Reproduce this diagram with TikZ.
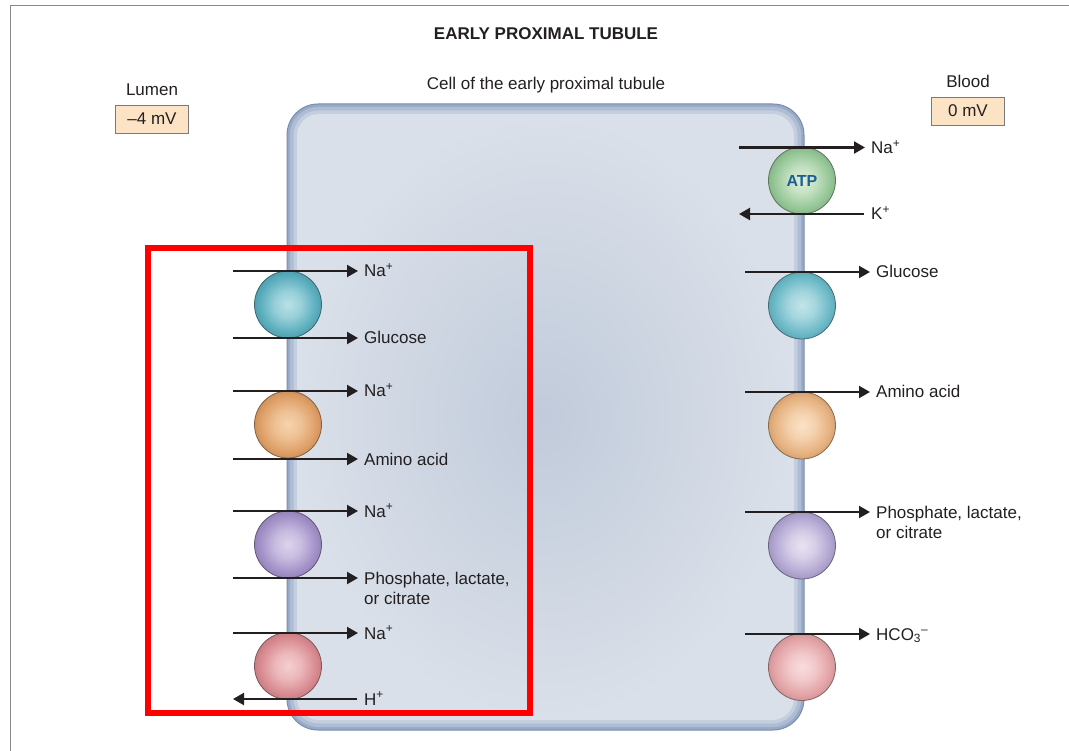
\documentclass[tikz,border=0pt]{standalone}
\usepackage{fontspec}
\setmainfont{Liberation Sans}
\usetikzlibrary{arrows.meta,fadings}

% palette
\definecolor{ink}{HTML}{231F20}
\definecolor{framegray}{HTML}{8A8A8A}
\definecolor{peach}{HTML}{FCE3C6}
\definecolor{boxedge}{HTML}{7A7A7A}
\definecolor{cellline}{HTML}{7A8EAE}
\definecolor{membA}{HTML}{97AAC7}
\definecolor{membB}{HTML}{AEBDD3}
\definecolor{membC}{HTML}{C3CEDE}
\definecolor{cytoEdge}{HTML}{DAE0E9}
\definecolor{cytoMid}{HTML}{C1CBDB}
\definecolor{atpblue}{HTML}{1E5F93}
\definecolor{markred}{HTML}{FF0000}
% transporter colours (centre / rim)
\definecolor{cyanIn}{HTML}{B9E1E7}   \definecolor{cyanOut}{HTML}{5AAEBE}
\definecolor{oraIn}{HTML}{F7D3AE}    \definecolor{oraOut}{HTML}{DE9F66}
\definecolor{purIn}{HTML}{DCD4EC}    \definecolor{purOut}{HTML}{A290C8}
\definecolor{pinkIn}{HTML}{F5CFD1}   \definecolor{pinkOut}{HTML}{D88A90}
\definecolor{grnIn}{HTML}{DDEFD8}    \definecolor{grnOut}{HTML}{95C696}
\definecolor{cyanInR}{HTML}{C3E5EA}  \definecolor{cyanOutR}{HTML}{6BB9C7}
\definecolor{oraInR}{HTML}{FBE2C6}   \definecolor{oraOutR}{HTML}{E6B17F}
\definecolor{purInR}{HTML}{E8E3F2}   \definecolor{purOutR}{HTML}{B2A6D2}
\definecolor{pinkInR}{HTML}{F9DCDD}  \definecolor{pinkOutR}{HTML}{E3A3A6}

% sphere colours used by the transporter shading
\colorlet{sphin}{white}
\colorlet{sphout}{gray}
\pgfdeclareradialshading[sphin,sphout]{spheroid}{\pgfpoint{0bp}{0bp}}{%
  color(0bp)=(sphin); color(10bp)=(sphin!65!sphout); color(21bp)=(sphout);
  color(25bp)=(sphout!92!black); color(50bp)=(sphout!92!black)}
\tikzfading[name=midband, top color=transparent!100, middle color=transparent!0,
  bottom color=transparent!100]

\tikzset{
  every node/.style={font=\fontsize{17}{20.4}\selectfont, text=ink},
  lbl/.style={anchor=base west, inner sep=0pt},
  mlbl/.style={anchor=north west, inner sep=0pt, align=left},
  flux/.style={draw=ink, line width=2.1pt,
    -{Triangle[length=11pt,width=12pt]}},
  pump/.style 2 args={circle, minimum size=67pt, inner sep=0pt,
    /utils/exec={\colorlet{sphin}{#1}\colorlet{sphout}{#2}},
    draw=#2!60!black, line width=0.8pt, shading=spheroid,
    path picture={\fill[#2!85!black, opacity=0.25, path fading=midband]
      (path picture bounding box.south west) rectangle
      (path picture bounding box.north east);}},
  mvbox/.style={draw=boxedge, fill=peach, line width=0.9pt,
    minimum width=73pt, minimum height=28pt, inner sep=0pt},
}

\begin{document}
\begin{tikzpicture}[x=1pt, y=-1pt]
\useasboundingbox (0,0) rectangle (1069,751);

% page frame
\draw[framegray, line width=1.5pt] (10.5,751) -- (10.5,5.5) -- (1069,5.5);

% headings
\node[font=\bfseries\fontsize{17}{20.4}\selectfont] (title) at (546,34) {EARLY PROXIMAL TUBULE};
\node (celltitle) at (546,85) {Cell of the early proximal tubule};
\node (lumen) at (152,90) {Lumen};
\node[mvbox] (lumenmv) at (152,119) {–4 mV};
\node (blood) at (968,81) {Blood};
\node[mvbox] (bloodmv) at (968,111) {0 mV};

% the cell: membrane band and cytoplasm
\filldraw[fill=membA, draw=cellline, line width=1pt, rounded corners=31pt]
  (287,104) rectangle (804,730);
\fill[membB, rounded corners=28pt] (290,107) rectangle (801,727);
\fill[membC, rounded corners=25pt] (293.5,110.5) rectangle (797.5,723.5);
\shade[inner color=cytoMid, outer color=cytoEdge, rounded corners=22pt]
  (297,114) rectangle (794,720);

% luminal transporters
\node[pump={cyanIn}{cyanOut}] (sglt) at (288,304.5) {};
\node[pump={oraIn}{oraOut}] (aacot) at (288,424.5) {};
\node[pump={purIn}{purOut}] (phcot) at (288,544.5) {};
\node[pump={pinkIn}{pinkOut}] (nhe) at (288,666) {};

% basolateral transporters
\node[pump={grnIn}{grnOut}, font=\bfseries\fontsize{16}{19}\selectfont, text=atpblue] (atpase) at (802,180.5) {ATP};
\node[pump={cyanInR}{cyanOutR}] (glut) at (802,305.5) {};
\node[pump={oraInR}{oraOutR}] (aaex) at (802,425.5) {};
\node[pump={purInR}{purOutR}] (phex) at (802,545.5) {};
\node[pump={pinkInR}{pinkOutR}] (hco) at (802,667) {};

% luminal fluxes
\coordinate (l1a) at (233,271); \coordinate (l1b) at (358,271);
\coordinate (l2a) at (233,338); \coordinate (l2b) at (358,338);
\coordinate (l3a) at (233,391); \coordinate (l3b) at (358,391);
\coordinate (l4a) at (233,459); \coordinate (l4b) at (358,459);
\coordinate (l5a) at (233,511); \coordinate (l5b) at (358,511);
\coordinate (l6a) at (233,578); \coordinate (l6b) at (358,578);
\coordinate (l7a) at (233,633); \coordinate (l7b) at (358,633);
\coordinate (l8a) at (357,699); \coordinate (l8b) at (233,699);
\draw[flux] (l1a) -- (l1b);
\draw[flux] (l2a) -- (l2b);
\draw[flux] (l3a) -- (l3b);
\draw[flux] (l4a) -- (l4b);
\draw[flux] (l5a) -- (l5b);
\draw[flux] (l6a) -- (l6b);
\draw[flux] (l7a) -- (l7b);
\draw[flux] (l8a) -- (l8b);

\node[lbl] (nal1) at (364,277) {Na\textsuperscript{+}};
\node[lbl] (glcl) at (364,344) {Glucose};
\node[lbl] (nal2) at (364,397) {Na\textsuperscript{+}};
\node[lbl] (aal) at (364,465) {Amino acid};
\node[lbl] (nal3) at (364,517) {Na\textsuperscript{+}};
\node[mlbl] (phl) at (364,571.5) {Phosphate, lactate,\\or citrate};
\node[lbl] (nal4) at (364,639) {Na\textsuperscript{+}};
\node[lbl] (hl) at (364,705) {H\textsuperscript{+}};

% basolateral fluxes
\coordinate (b1a) at (739,147.5); \coordinate (b1b) at (865,147.5);
\coordinate (b2a) at (864,214); \coordinate (b2b) at (739,214);
\coordinate (b3a) at (745,272); \coordinate (b3b) at (870,272);
\coordinate (b4a) at (745,392); \coordinate (b4b) at (870,392);
\coordinate (b5a) at (745,512); \coordinate (b5b) at (870,512);
\coordinate (b6a) at (745,634); \coordinate (b6b) at (870,634);
\draw[flux] (b1a) -- (b1b);
\draw[flux] (b2a) -- (b2b);
\draw[flux] (b3a) -- (b3b);
\draw[flux] (b4a) -- (b4b);
\draw[flux] (b5a) -- (b5b);
\draw[flux] (b6a) -- (b6b);

\node[lbl] (nab) at (871,153.5) {Na\textsuperscript{+}};
\node[lbl] (kb) at (871,220) {K\textsuperscript{+}};
\node[lbl] (glcb) at (876,278) {Glucose};
\node[lbl] (aab) at (876,398) {Amino acid};
\node[mlbl] (phb) at (876,505.5) {Phosphate, lactate,\\or citrate};
\node[lbl] (hcob) at (876,640) {HCO\textsubscript{3}\textsuperscript{–}};

% highlight frame around the luminal transporters
\draw[markred, line width=6pt] (147.5,248) rectangle (530,713);
\end{tikzpicture}
\end{document}
